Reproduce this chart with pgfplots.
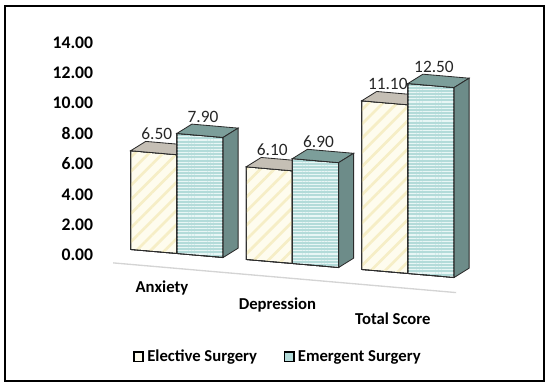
\documentclass[border=0pt]{standalone}
\usepackage{fontspec}
\setmainfont{Carlito}
\usepackage{pgfplots}
\pgfplotsset{compat=1.18}
\usetikzlibrary{patterns.meta,calc}
\definecolor{elecF}{HTML}{FEFCEE}
\definecolor{elecS}{HTML}{F6EEC6}
\definecolor{elecT}{HTML}{C5BFB5}
\definecolor{emerF}{HTML}{B3DBD9}
\definecolor{emerS}{HTML}{E8F6F5}
\definecolor{emerT}{HTML}{7C9E9A}
\definecolor{emerR}{HTML}{6D8C89}
\definecolor{edge}{HTML}{2B2B2B}
\definecolor{floorc}{HTML}{D4D4D4}
\tikzset{
  elecfront/.style={preaction={fill=elecF},preaction={pattern={Lines[angle=45,distance=6pt,line width=1.6pt]},pattern color=elecS},draw=edge,line width=0.5pt},
  electop/.style={fill=elecT,draw=edge,line width=0.5pt},
  emerfront/.style={preaction={fill=emerF},preaction={pattern={Lines[angle=0,distance=1.9pt,line width=0.7pt]},pattern color=emerS},draw=edge,line width=0.5pt},
  emertop/.style={fill=emerT,draw=edge,line width=0.5pt},
  emerside/.style={fill=emerR,draw=edge,line width=0.5pt},
}
% a b h front top
\newcommand{\cuboid}[5]{%
  \addplot3[#4,mark=none,forget plot] coordinates {(#1,1.4,0) (#2,1.4,0) (#2,1.4,#3) (#1,1.4,#3)} -- cycle;
  \addplot3[#5,mark=none,forget plot] coordinates {(#1,1.4,#3) (#2,1.4,#3) (#2,2.4,#3) (#1,2.4,#3)} -- cycle;
}
\newcommand{\sideface}[2]{%
  \addplot3[emerside,mark=none,forget plot] coordinates {(#1,1.4,0) (#1,2.4,0) (#1,2.4,#2) (#1,1.4,#2)} -- cycle;
}
\begin{document}
\begin{tikzpicture}
\begin{axis}[
  x={(69.3pt,-6pt)}, y={(9pt,5.6pt)}, z={(0pt,9.12pt)},
  xmin=-0.55, xmax=2.6, ymin=0, ymax=2.5, zmin=0, zmax=14,
  clip=false,
  axis line style={draw=none},
  major tick length=0pt,
  ytick=\empty,
  xtick={0,1,2},
  xticklabels={Anxiety,{\raisebox{-4.2pt}[\height]{Depression}},{\raisebox{-7.6pt}[\height]{Total Score}}},
  x tick label style={font=\bfseries,anchor=north,xshift=3.6pt,yshift=-4.7pt},
  ztick={0,2,...,14},
  z tick label style={font=\fontsize{10.6}{12}\selectfont\bfseries,anchor=east,xshift=4pt,yshift=3.6pt,
    /pgf/number format/fixed,/pgf/number format/fixed zerofill,
    /pgf/number format/precision=2,/pgf/number format/assume math mode=true},
  legend style={at={(0.464,-0.24)},anchor=center,draw=none,fill=none,font=\bfseries,
    /tikz/every even column/.append style={column sep=14pt}},
  legend columns=2,
]
\coordinate (O) at (axis cs:0,0,0);
\addplot3[floorc,line width=0.8pt,mark=none,forget plot] coordinates {(-0.37,0,0) (2.6,0,0)};
% Anxiety
\cuboid{-0.4}{0}{6.50}{elecfront}{electop}
\cuboid{0}{0.4}{7.90}{emerfront}{emertop}
\sideface{0.4}{7.90}
% Depression
\cuboid{0.6}{1}{6.10}{elecfront}{electop}
\cuboid{1}{1.4}{6.90}{emerfront}{emertop}
\sideface{1.4}{6.90}
% Total Score
\cuboid{1.6}{2}{11.10}{elecfront}{electop}
\cuboid{2}{2.4}{12.50}{emerfront}{emertop}
\sideface{2.4}{12.50}
\addplot3[draw=none,mark=none,forget plot,point meta=z,
  nodes near coords={\pgfmathprintnumber[fixed,fixed zerofill,precision=2,assume math mode=true]{\pgfplotspointmeta}},
  nodes near coords style={anchor=south,text=black!85,yshift=3.2pt,font=\fontsize{10.4}{12}\selectfont}]
  coordinates {(-0.2,1.6,6.5) (0.2,1.6,7.9) (0.8,1.6,6.1) (1.2,1.6,6.9) (1.8,1.6,11.1) (2.2,1.6,12.5)};
\addlegendimage{legend image code/.code={\draw[line width=0.9pt,draw=black,fill=elecF] (0pt,-2.8pt) rectangle (5.6pt,2.8pt);}}
\addlegendimage{legend image code/.code={\draw[line width=0.9pt,draw=black,fill=emerF] (0pt,-2.8pt) rectangle (5.6pt,2.8pt);}}
\legend{Elective Surgery,Emergent Surgery}
\end{axis}
\pgfresetboundingbox
\path ($(O)+(-93.54pt,159.96pt)$) rectangle ($(O)+(236.46pt,-72.24pt)$);
\draw[line width=1.2pt] ($(O)+(-90.54pt,156.36pt)$) rectangle ($(O)+(232.86pt,-68.64pt)$);
\end{tikzpicture}
\end{document}
